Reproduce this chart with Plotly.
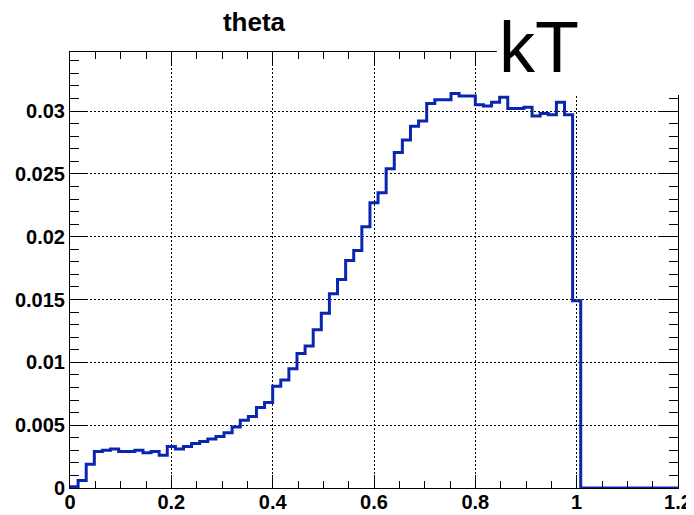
import numpy as np
import plotly.graph_objects as go

# histogram "theta": 75 bins from 0 to 1.2
x_min = 0.0
x_max = 1.2
n_bins = 75
bin_contents = [
    0.0001, 0.0006, 0.0019, 0.0029, 0.0030, 0.0031, 0.0029, 0.0029, 0.0030, 0.0028,
    0.0029, 0.0026, 0.0033, 0.0031, 0.0033, 0.00355, 0.0037, 0.0039, 0.0041, 0.0044,
    0.00486, 0.0054, 0.0057, 0.0064, 0.0068, 0.0081, 0.0086, 0.0095, 0.0107, 0.0113,
    0.0126, 0.0139, 0.01545, 0.0166, 0.0181, 0.0189, 0.0208, 0.0227, 0.0235, 0.0254,
    0.0267, 0.0277, 0.0288, 0.0292, 0.0306, 0.0309, 0.0309, 0.0314, 0.0312, 0.0312,
    0.0305, 0.0304, 0.0307, 0.0311, 0.0302, 0.0302, 0.0303, 0.0296, 0.0298, 0.0297,
    0.0307, 0.0297, 0.0149, 0.0, 0.0, 0.0, 0.0, 0.0, 0.0, 0.0,
    0.0, 0.0, 0.0, 0.0, 0.0,
]
title_text = "theta"
label_text = "kT"

edges = np.linspace(x_min, x_max, n_bins + 1)
# outline like ROOT: start on the axis, step through bins
xs = np.concatenate([[edges[0]], edges])
ys = np.concatenate([[0.0], bin_contents, [bin_contents[-1]]])

fig = go.Figure()
fig.add_trace(go.Scatter(x=xs, y=ys, mode="lines", line_shape="hv",
                         line=dict(color="#0a26b0", width=3), showlegend=False))

axis_common = dict(
    showline=True, linecolor="black", linewidth=1, mirror="ticks",
    ticks="inside", tickcolor="black", tickwidth=1,
    showgrid=True, gridcolor="black", gridwidth=1, griddash="2px,2px",
    zeroline=False, automargin=False,
    tickfont=dict(family="Liberation Sans, Arial, sans-serif", size=20,
                  color="black", weight="bold"),
)

fig.update_xaxes(range=[x_min, x_max], dtick=0.2, ticklen=13,
                 ticklabelstandoff=-4,
                 minor=dict(dtick=0.05, ticks="inside", ticklen=7,
                            tickcolor="black", showgrid=False),
                 **axis_common)
fig.update_yaxes(range=[0, 0.0347], dtick=0.005, ticklen=18,
                 minor=dict(dtick=0.001, ticks="inside", ticklen=9,
                            tickcolor="black", showgrid=False),
                 **axis_common)

# white label box covering the top right corner (as in the ROOT canvas)
fig.add_shape(type="rect", xref="paper", yref="paper",
              x0=0.702, x1=1.1, y0=0.9015, y1=1.2,
              fillcolor="white", line=dict(width=0), layer="above")
fig.add_annotation(text=label_text, xref="paper", yref="paper",
                   x=0.772, y=1.012, xanchor="center", yanchor="middle",
                   showarrow=False,
                   font=dict(family="Liberation Sans, Arial, sans-serif",
                             size=72, color="black"))

# the page body adds an 8px offset, so the figure is 8px smaller
fig.update_layout(
    width=686, height=507,
    margin=dict(l=62, r=16, t=44, b=27),
    paper_bgcolor="white", plot_bgcolor="white",
    title=dict(text=title_text, x=246 / 686, xref="container", xanchor="center",
               y=1 - 14 / 507, yref="container", yanchor="middle",
               font=dict(family="Liberation Sans, Arial, sans-serif", size=26,
                         color="black", weight="bold")),
)

fig.write_html("out.html")
